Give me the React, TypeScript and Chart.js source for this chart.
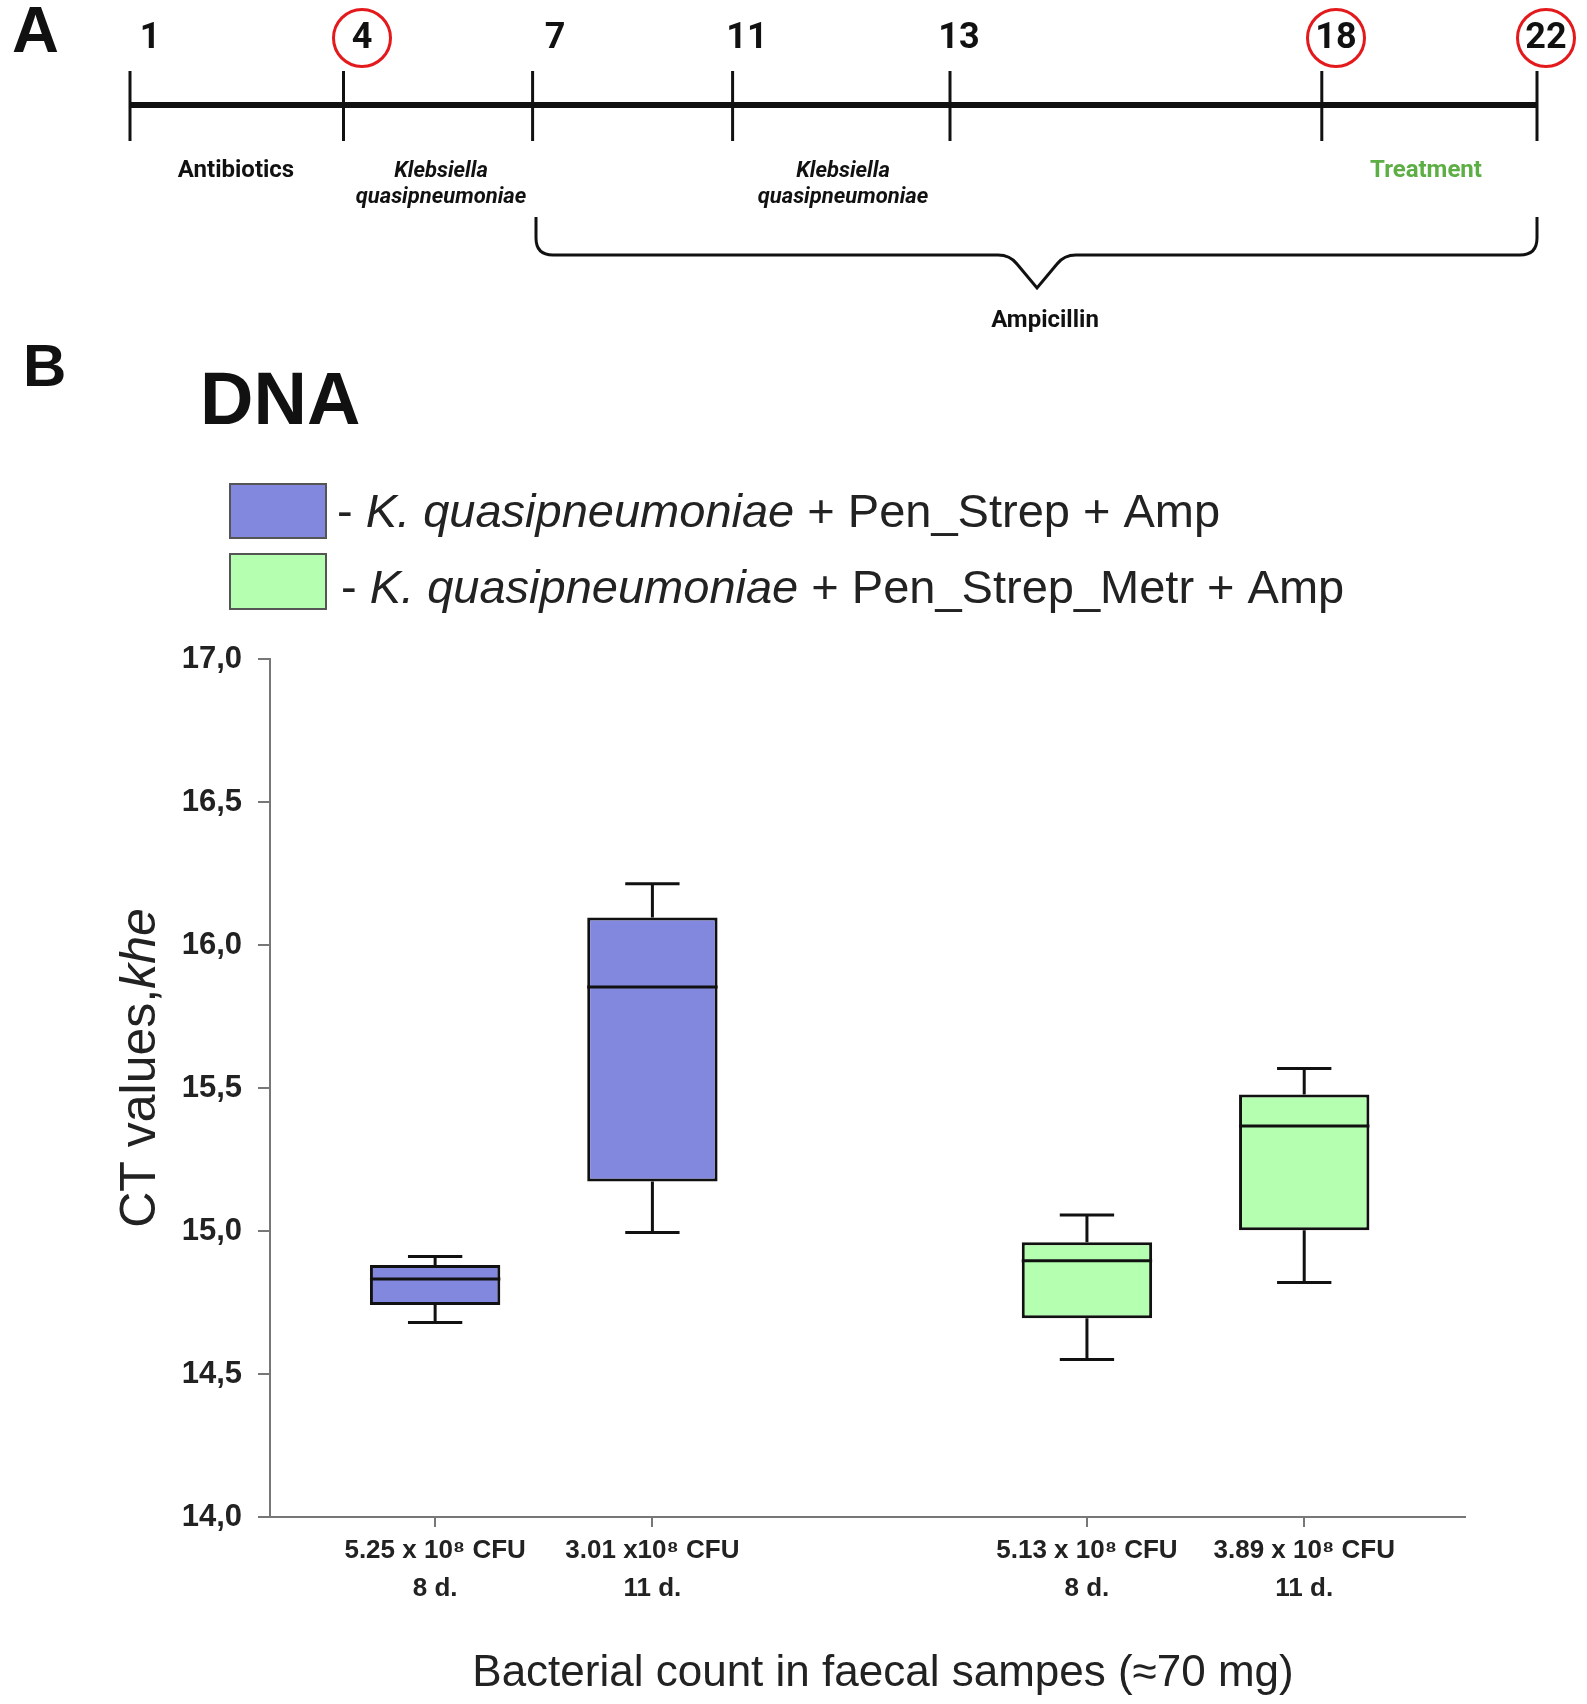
import React, { useEffect, useRef } from 'react';
import { Chart, registerables } from 'chart.js';

Chart.register(...registerables);

// ---------- data ----------
const seriesNames = ['K. quasipneumoniae + Pen_Strep + Amp', 'K. quasipneumoniae + Pen_Strep_Metr + Amp'];
const seriesColors = ['#8288de', '#b4ffb0'];
const xPositions = [1, 2, 4, 5];
const boxSeries = [0, 0, 1, 1];
const xTickLabels = [
  ['5.25 x 10⁸ CFU', '8 d.'],
  ['3.01 x10⁸ CFU', '11 d.'],
  ['5.13 x 10⁸ CFU', '8 d.'],
  ['3.89 x 10⁸ CFU', '11 d.'],
];
const whiskerLow = [14.68, 14.995, 14.551, 14.82];
const q1 = [14.741, 15.173, 14.695, 15.003];
const median = [14.832, 15.853, 14.896, 15.367];
const q3 = [14.881, 16.096, 14.961, 15.477];
const whiskerHigh = [14.911, 16.214, 15.056, 15.568];
const yTicks = [14.0, 14.5, 15.0, 15.5, 16.0, 16.5, 17.0];

const timelineDays = [1, 4, 7, 11, 13, 18, 22];
const circledDays = [4, 18, 22];

const SANS = "'Liberation Sans', Arial, sans-serif";
const ROBOTO = "Roboto, 'Liberation Sans', sans-serif";

export default function App() {
  const ref = useRef<HTMLCanvasElement | null>(null);

  useEffect(() => {
    document.body.style.margin = '0';
    const canvas = ref.current;
    if (!canvas) return;

    const boxUnit = 0.3; // half box width in x units
    const capUnit = 0.125;

    const datasets = seriesNames.map((name, s) => ({
      label: name,
      data: xPositions
        .map((x, i) => ({ x, y: [q1[i], q3[i]], s: boxSeries[i] }))
        .filter((d) => d.s === s)
        .map((d) => ({ x: d.x, y: d.y })),
      backgroundColor: seriesColors[s],
      borderColor: '#111',
      borderWidth: 3,
      borderSkipped: false,
      grouped: false,
      categoryPercentage: 1,
      barPercentage: boxUnit * 2,
    }));

    const bgPlugin = {
      id: 'bg',
      beforeDraw(chart: any) {
        const c = chart.ctx;
        c.save();
        c.fillStyle = '#ffffff';
        c.fillRect(0, 0, chart.width, chart.height);
        c.restore();
      },
    };

    const whiskerPlugin = {
      id: 'whiskers',
      afterDatasetsDraw(chart: any) {
        const c = chart.ctx;
        const xs = chart.scales.x;
        const ys = chart.scales.y;
        c.save();
        c.strokeStyle = '#111';
        c.lineWidth = 3;
        c.lineCap = 'butt';
        xPositions.forEach((xv, i) => {
          const px = xs.getPixelForValue(xv);
          const bl = xs.getPixelForValue(xv - boxUnit);
          const br = xs.getPixelForValue(xv + boxUnit);
          const cl = xs.getPixelForValue(xv - capUnit);
          const cr = xs.getPixelForValue(xv + capUnit);
          const yHi = ys.getPixelForValue(whiskerHigh[i]);
          const yQ3 = ys.getPixelForValue(q3[i]);
          const yMed = ys.getPixelForValue(median[i]);
          const yQ1 = ys.getPixelForValue(q1[i]);
          const yLo = ys.getPixelForValue(whiskerLow[i]);
          c.beginPath();
          c.moveTo(px, yQ3);
          c.lineTo(px, yHi);
          c.moveTo(cl, yHi);
          c.lineTo(cr, yHi);
          c.moveTo(px, yQ1);
          c.lineTo(px, yLo);
          c.moveTo(cl, yLo);
          c.lineTo(cr, yLo);
          c.moveTo(bl, yMed);
          c.lineTo(br, yMed);
          c.stroke();
        });
        c.restore();
      },
    };

    const decorPlugin = {
      id: 'decor',
      afterDraw(chart: any) {
        const c = chart.ctx;
        c.save();

        // ----- Panel A: timeline -----
        const tickX = [130, 343.5, 532.6, 732.6, 950, 1321.8, 1537];
        const numX = [150, 362, 555, 747, 959, 1336, 1546];
        c.fillStyle = '#111';
        c.font = `bold 65px ${SANS}`;
        c.textAlign = 'left';
        c.textBaseline = 'alphabetic';
        c.fillText('A', 12, 52);

        c.strokeStyle = '#111';
        c.lineWidth = 6;
        c.beginPath();
        c.moveTo(tickX[0], 105);
        c.lineTo(tickX[tickX.length - 1], 105);
        c.stroke();
        c.lineWidth = 3;
        tickX.forEach((x) => {
          c.beginPath();
          c.moveTo(x, 71);
          c.lineTo(x, 141);
          c.stroke();
        });

        c.font = `bold 36px ${ROBOTO}`;
        c.textAlign = 'center';
        c.textBaseline = 'middle';
        timelineDays.forEach((d, i) => {
          c.fillStyle = '#111';
          c.fillText(String(d), numX[i], 39);
          if (circledDays.includes(d)) {
            c.strokeStyle = '#e3191c';
            c.lineWidth = 3;
            c.beginPath();
            c.arc(numX[i], 38, 28.5, 0, Math.PI * 2);
            c.stroke();
          }
        });

        c.fillStyle = '#111';
        c.font = `bold 24px ${ROBOTO}`;
        c.fillText('Antibiotics', 236, 171);
        c.fillText('Ampicillin', 1045, 321);
        c.font = `italic bold 22px ${ROBOTO}`;
        c.fillText('Klebsiella', 441, 171);
        c.fillText('quasipneumoniae', 441, 197);
        c.fillText('Klebsiella', 843, 171);
        c.fillText('quasipneumoniae', 843, 197);
        c.fillStyle = '#5dae45';
        c.font = `bold 24px ${ROBOTO}`;
        c.fillText('Treatment', 1426, 171);

        // brace
        c.strokeStyle = '#111';
        c.lineWidth = 3;
        c.beginPath();
        c.moveTo(536, 217);
        c.lineTo(536, 238);
        c.quadraticCurveTo(536, 255, 553, 255);
        c.lineTo(998, 255);
        c.quadraticCurveTo(1010, 255, 1017, 264);
        c.lineTo(1037, 288);
        c.lineTo(1057, 264);
        c.quadraticCurveTo(1064, 255, 1076, 255);
        c.lineTo(1520, 255);
        c.quadraticCurveTo(1537, 255, 1537, 238);
        c.lineTo(1537, 217);
        c.stroke();

        // ----- Panel B -----
        c.fillStyle = '#111';
        c.textAlign = 'left';
        c.textBaseline = 'alphabetic';
        c.font = `bold 60px ${SANS}`;
        c.fillText('B', 23, 386);
        c.font = `bold 74px ${SANS}`;
        c.fillText('DNA', 200, 424);

        // legend
        const legendRows = [
          { y: 484, h: 54, tx: 337, base: 527 },
          { y: 554, h: 55, tx: 341, base: 603 },
        ];
        legendRows.forEach((r, s) => {
          c.fillStyle = seriesColors[s];
          c.fillRect(230, r.y, 96, r.h);
          c.strokeStyle = '#555';
          c.lineWidth = 2;
          c.strokeRect(230, r.y, 96, r.h);
          const name = seriesNames[s];
          const species = 'K. quasipneumoniae';
          const rest = name.slice(species.length);
          c.fillStyle = '#222';
          let x = r.tx;
          c.font = `47px ${SANS}`;
          c.fillText('- ', x, r.base);
          x += c.measureText('- ').width;
          c.font = `italic 47px ${SANS}`;
          c.fillText(species, x, r.base);
          x += c.measureText(species).width;
          c.font = `47px ${SANS}`;
          c.fillText(rest, x, r.base);
        });

        // y-axis title
        c.save();
        c.translate(155, 1068);
        c.rotate(-Math.PI / 2);
        c.fillStyle = '#222';
        c.font = `50px ${SANS}`;
        const t1 = 'CT values,';
        const w1 = c.measureText(t1).width;
        c.font = `italic 50px ${SANS}`;
        const t2 = 'khe';
        const w2 = c.measureText(t2).width;
        const start = -(w1 + w2) / 2;
        c.font = `50px ${SANS}`;
        c.textAlign = 'left';
        c.fillText(t1, start, 0);
        c.font = `italic 50px ${SANS}`;
        c.fillText(t2, start + w1, 0);
        c.restore();

        // x-axis title
        c.fillStyle = '#222';
        c.font = `44px ${SANS}`;
        c.textAlign = 'center';
        c.fillText('Bacterial count in faecal sampes (≈70 mg)', 883, 1686);

        c.restore();
      },
    };

    const chart = new Chart(canvas, {
      type: 'bar',
      data: { datasets: datasets as any },
      plugins: [bgPlugin, whiskerPlugin, decorPlugin],
      options: {
        responsive: false,
        animation: false,
        devicePixelRatio: 1,
        layout: { padding: { left: 150, right: 122, top: 659, bottom: 0 } },
        plugins: {
          legend: { display: false },
          tooltip: { enabled: false },
          title: { display: false },
        },
        scales: {
          x: {
            type: 'linear',
            min: 0.24,
            max: 5.74,
            offset: false,
            afterBuildTicks: (s: any) => {
              s.ticks = xPositions.map((v) => ({ value: v }));
            },
            afterFit: (s: any) => {
              s.height = 187;
            },
            ticks: {
              autoSkip: false,
              maxRotation: 0,
              minRotation: 0,
              padding: 5,
              color: '#222',
              font: { family: SANS, size: 26, weight: 'bold', lineHeight: 1.45 },
              callback: (_v: any, i: number) => xTickLabels[i],
            },
            grid: {
              display: true,
              offset: false,
              drawOnChartArea: false,
              drawTicks: true,
              tickLength: 10,
              color: '#777',
              lineWidth: 2,
            },
            border: { display: true, color: '#777', width: 2 },
          },
          y: {
            type: 'linear',
            min: 14,
            max: 17,
            afterBuildTicks: (s: any) => {
              s.ticks = yTicks.map((v) => ({ value: v }));
            },
            afterFit: (s: any) => {
              s.width = 120;
            },
            ticks: {
              padding: 16,
              color: '#222',
              font: { family: SANS, size: 31, weight: 'bold' },
              callback: (v: any) => Number(v).toFixed(1).replace('.', ','),
            },
            grid: {
              display: true,
              drawOnChartArea: false,
              drawTicks: true,
              tickLength: 12,
              color: '#777',
              lineWidth: 2,
            },
            border: { display: true, color: '#777', width: 2 },
          },
        },
      } as any,
    });

    return () => {
      chart.destroy();
    };
  }, []);

  return (
    <div style={{ position: 'absolute', left: 0, top: 0, width: 1587, height: 1704 }}>
      <canvas ref={ref} width={1587} height={1704} style={{ width: 1587, height: 1704, display: 'block' }} />
    </div>
  );
}
